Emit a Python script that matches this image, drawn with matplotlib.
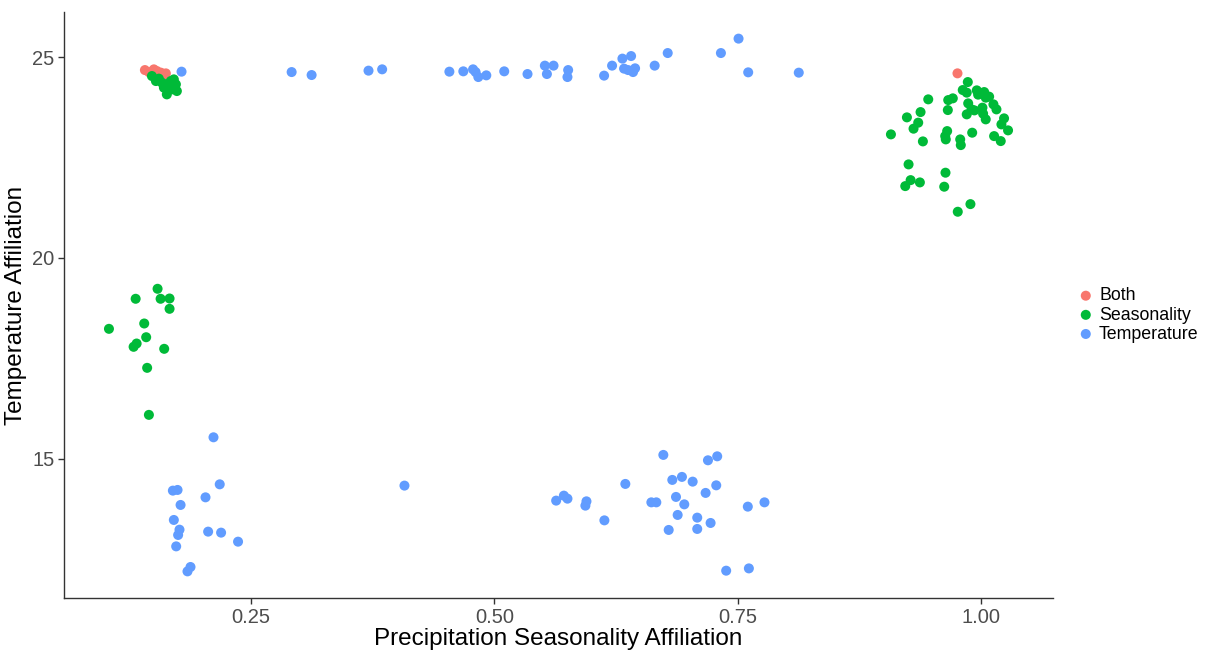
import matplotlib
matplotlib.use("Agg")
import matplotlib.pyplot as plt

plt.rcParams['font.family'] = ['Liberation Sans', 'DejaVu Sans']

# ---- data ----
both_x = [0.1414, 0.1455, 0.1506, 0.1537, 0.1578, 0.1609, 0.1629, 0.9754]
both_y = [24.683, 24.633, 24.700, 24.658, 24.618, 24.551, 24.600, 24.601]

season_x = [
    0.1486, 0.1527, 0.1557, 0.1588, 0.1639, 0.1680, 0.1711, 0.1732, 0.1691, 0.1742, 0.1639, 0.1609,
    0.1544, 0.1319, 0.1575, 0.1667, 0.1667, 0.1407, 0.1045, 0.1427, 0.1329, 0.1298, 0.1612, 0.1437, 0.1455,
    0.9860, 0.9808, 0.9849, 0.9952, 0.9966, 1.0028, 1.0079, 1.0044, 0.9454, 0.9659, 0.9706, 0.9655,
    0.9864, 0.9898, 0.9849, 0.9928, 1.0010, 1.0017, 1.0044, 1.0123, 1.0154, 1.0232, 1.0205, 1.0273,
    1.0130, 1.0198, 0.9375, 0.9235, 0.9351, 0.9303, 0.9071, 0.9399, 0.9648, 0.9628, 0.9634, 0.9782,
    0.9788, 0.9905, 0.9252, 0.9273, 0.9218, 0.9368, 0.9631, 0.9618, 0.9887, 0.9757,
]
season_y = [
    24.534, 24.409, 24.469, 24.369, 24.327, 24.409, 24.451, 24.327, 24.202, 24.160, 24.077, 24.244,
    19.232, 18.983, 18.983, 18.990, 18.733, 18.367, 18.234, 18.025, 17.868, 17.786, 17.736, 17.262, 16.090,
    24.384, 24.185, 24.120, 24.177, 24.070, 24.135, 24.020, 23.995, 23.953, 23.935, 23.978, 23.686,
    23.853, 23.703, 23.579, 23.678, 23.746, 23.596, 23.454, 23.828, 23.703, 23.479, 23.329, 23.180,
    23.037, 22.913, 23.636, 23.504, 23.372, 23.222, 23.080, 22.905, 23.162, 23.037, 22.955, 22.955,
    22.813, 23.122, 22.332, 21.940, 21.791, 21.883, 22.125, 21.776, 21.342, 21.152,
]

temp_x = [
    0.1790, 0.2920, 0.3125, 0.3709, 0.3849, 0.4539, 0.4682, 0.4782, 0.4808, 0.4836, 0.4918, 0.5102,
    0.5341, 0.5519, 0.5608, 0.5540, 0.5758, 0.5751, 0.6127, 0.6209, 0.6315, 0.6404, 0.6332, 0.6373,
    0.6424, 0.6445, 0.6646, 0.6780, 0.7326, 0.7507, 0.7606, 0.8125,
    0.2118, 0.2182, 0.1701, 0.1749, 0.2036, 0.1780, 0.1711, 0.1769, 0.1755, 0.2063, 0.2196, 0.2370,
    0.1735, 0.1882, 0.1851,
    0.4078, 0.6735, 0.7193, 0.7288, 0.6345, 0.6827, 0.6926, 0.7036, 0.7278, 0.7169, 0.5635, 0.5714,
    0.5751, 0.5946, 0.5935, 0.6612, 0.6663, 0.6865, 0.6950, 0.7602, 0.7773, 0.6130, 0.6882, 0.7083,
    0.7220, 0.6790, 0.7083, 0.7380, 0.7613,
]
temp_y = [
    24.643, 24.633, 24.559, 24.668, 24.701, 24.643, 24.651, 24.701, 24.633, 24.509, 24.551, 24.651,
    24.584, 24.793, 24.793, 24.584, 24.683, 24.509, 24.544, 24.793, 24.968, 25.032, 24.718, 24.683,
    24.633, 24.726, 24.793, 25.107, 25.107, 25.466, 24.626, 24.618,
    15.531, 14.359, 14.202, 14.219, 14.035, 13.845, 13.471, 13.229, 13.097, 13.180, 13.155, 12.930,
    12.813, 12.299, 12.190,
    14.327, 15.092, 14.958, 15.057, 14.369, 14.469, 14.544, 14.426, 14.334, 14.145, 13.953, 14.077,
    14.002, 13.935, 13.828, 13.910, 13.910, 14.045, 13.860, 13.803, 13.910, 13.461, 13.596, 13.529,
    13.396, 13.222, 13.247, 12.207, 12.264,
]

groups = ["Both", "Seasonality", "Temperature"]
colors = ["#F8766D", "#00BA38", "#619CFF"]
x_ticks = [0.25, 0.50, 0.75, 1.00]
x_ticklabels = ["0.25", "0.50", "0.75", "1.00"]
y_ticks = [15, 20, 25]

fig = plt.figure(figsize=(12.11, 6.51), dpi=100)
ax = fig.add_axes([64/1211, 1 - 598/651, (1053 - 64)/1211, (598 - 12)/651])

for name, xs, ys, c in zip(groups, [both_x, season_x, temp_x], [both_y, season_y, temp_y], colors):
    ax.scatter(xs, ys, s=52, color=c, edgecolors='none', label=name, zorder=3)

ax.margins(0.05)
ax.set_xticks(x_ticks)
ax.set_xticklabels(x_ticklabels)
ax.set_yticks(y_ticks)

for side in ['top', 'right']:
    ax.spines[side].set_visible(False)
for side in ['left', 'bottom']:
    ax.spines[side].set_color('#333333')
    ax.spines[side].set_linewidth(1.0)

ax.tick_params(axis='both', colors='#333333', labelcolor='#4D4D4D', labelsize=14.5,
               length=4, width=1.0, pad=3)
ax.set_xlabel("Precipitation Seasonality Affiliation", fontsize=17.5, color='black', labelpad=1)
ax.set_ylabel("Temperature Affiliation", fontsize=17.5, color='black')
ax.yaxis.set_label_coords(-37/989, 0.5)

leg = ax.legend(loc='center left', bbox_to_anchor=(1068/1211, 1 - 315/651),
                bbox_transform=fig.transFigure, frameon=False, fontsize=12.8,
                handletextpad=0.15, labelspacing=0.12, borderaxespad=0, handlelength=1.2,
                markerscale=1.0)

fig.savefig("out.png", dpi=100)
